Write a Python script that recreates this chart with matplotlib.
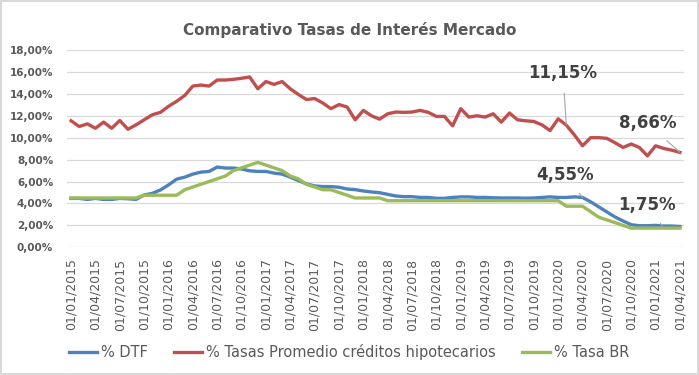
import numpy as np
import pandas as pd
import matplotlib
matplotlib.use("Agg")
import matplotlib.pyplot as plt

# monthly categories 01/2015 .. 04/2021
meses = pd.date_range("2015-01-01", "2021-04-01", freq="MS")

dtf = [4.46, 4.46, 4.37, 4.46, 4.37, 4.37, 4.46, 4.43, 4.37, 4.77,
       4.92, 5.23, 5.69, 6.22, 6.40, 6.68, 6.86, 6.92, 7.32, 7.23,
       7.23, 7.14, 6.98, 6.92, 6.92, 6.77, 6.68, 6.40, 6.09, 5.78,
       5.60, 5.54, 5.54, 5.48, 5.32, 5.26, 5.14, 5.05, 4.98, 4.83,
       4.68, 4.62, 4.62, 4.55, 4.55, 4.47, 4.47, 4.55, 4.60, 4.60,
       4.55, 4.55, 4.52, 4.50, 4.50, 4.50, 4.48, 4.50, 4.55, 4.60,
       4.55, 4.55, 4.60, 4.55, 4.15, 3.69, 3.23, 2.77, 2.40, 2.06,
       1.97, 1.97, 2.00, 1.94, 1.94, 1.90]

hipotecarios = [11.54, 11.02, 11.26, 10.86, 11.42, 10.86, 11.57, 10.77, 11.17, 11.63,
                12.09, 12.31, 12.86, 13.32, 13.85, 14.71, 14.80, 14.71, 15.26, 15.26,
                15.32, 15.42, 15.54, 14.46, 15.12, 14.86, 15.12, 14.46, 13.94, 13.48,
                13.57, 13.17, 12.65, 13.02, 12.80, 11.63, 12.49, 12.00, 11.69, 12.18,
                12.34, 12.31, 12.34, 12.49, 12.31, 11.94, 11.94, 11.08, 12.65, 11.88,
                12.00, 11.88, 12.18, 11.42, 12.25, 11.63, 11.54, 11.48, 11.17, 10.65,
                11.72, 11.15, 10.25, 9.26, 10.00, 10.00, 9.94, 9.54, 9.11, 9.42,
                9.11, 8.34, 9.26, 9.02, 8.86, 8.66]

tasa_br = [4.50, 4.50, 4.50, 4.50, 4.50, 4.50, 4.50, 4.50, 4.50, 4.75,
           4.75, 4.75, 4.75, 4.75, 5.25, 5.50, 5.75, 6.00, 6.25, 6.50,
           7.00, 7.25, 7.50, 7.75, 7.50, 7.25, 7.00, 6.50, 6.25, 5.75,
           5.50, 5.25, 5.25, 5.00, 4.75, 4.50, 4.50, 4.50, 4.50, 4.25,
           4.25, 4.25, 4.25, 4.25, 4.25, 4.25, 4.25, 4.25, 4.25, 4.25,
           4.25, 4.25, 4.25, 4.25, 4.25, 4.25, 4.25, 4.25, 4.25, 4.25,
           4.25, 3.75, 3.75, 3.75, 3.25, 2.75, 2.50, 2.25, 2.00, 1.75,
           1.75, 1.75, 1.75, 1.75, 1.75, 1.75]

gris = "#595959"

fig = plt.figure(figsize=(6.99, 3.75), dpi=100)
fig.patch.set_edgecolor("#d9d9d9")
fig.patch.set_linewidth(1.5)
ax = fig.add_axes([0.0959, 0.3405, 0.8826, 0.5262])

x = np.arange(len(meses))
ax.plot(x, dtf, color="#4F81BD", lw=2.4, label="% DTF", solid_joinstyle="round")
ax.plot(x, hipotecarios, color="#C0504D", lw=2.4,
        label="% Tasas Promedio créditos hipotecarios", solid_joinstyle="round")
ax.plot(x, tasa_br, color="#9BBB59", lw=2.4, label="% Tasa BR", solid_joinstyle="round")

ax.set_xlim(-0.5, len(meses) - 0.5)
ax.set_ylim(0, 18)
ax.set_yticks(np.arange(0, 19, 2))
ax.set_yticklabels([f"{v:.2f}%".replace(".", ",") for v in np.arange(0, 19, 2)],
                   fontsize=7.5, fontweight="bold", color=gris)
ax.set_xticks(x[::3])
ax.set_xticklabels([d.strftime("%d/%m/%Y") for d in meses[::3]], rotation=90,
                   fontsize=9, color=gris)
ax.tick_params(axis="y", length=0, pad=10)
ax.tick_params(axis="x", length=0, pad=8)
ax.grid(axis="y", color="#d9d9d9", lw=0.9)
ax.set_axisbelow(True)
for s in ax.spines.values():
    s.set_visible(False)

# data labels
ann = dict(fontsize=12, fontweight="bold", color="#404040", ha="center", va="center")
lead = dict(arrowstyle="-", color="#a6a6a6", lw=0.8, shrinkA=6, shrinkB=0)
ax.annotate("11,15%", xy=(61, hipotecarios[61]), xytext=(60.6, 15.9),
            arrowprops=lead, **ann)
ax.annotate("8,66%", xy=(75, hipotecarios[75]), xytext=(71.0, 11.3),
            arrowprops=lead, **ann)
ax.annotate("4,55%", xy=(63, dtf[63]), xytext=(60.8, 6.6),
            arrowprops=lead, **ann)
ax.annotate("1,75%", xy=(73, tasa_br[73]), xytext=(71.0, 3.9),
            arrowprops=lead, **ann)

fig.suptitle("Comparativo Tasas de Interés Mercado", x=0.5, y=0.94,
             fontsize=11, fontweight="bold", color=gris)

fig.legend(loc="center", bbox_to_anchor=(0.5, 0.062), ncol=3, frameon=False,
           fontsize=10.5, handlelength=1.9, columnspacing=1.8, handletextpad=0.3,
           labelcolor=gris)

fig.savefig("out.png", dpi=100)
